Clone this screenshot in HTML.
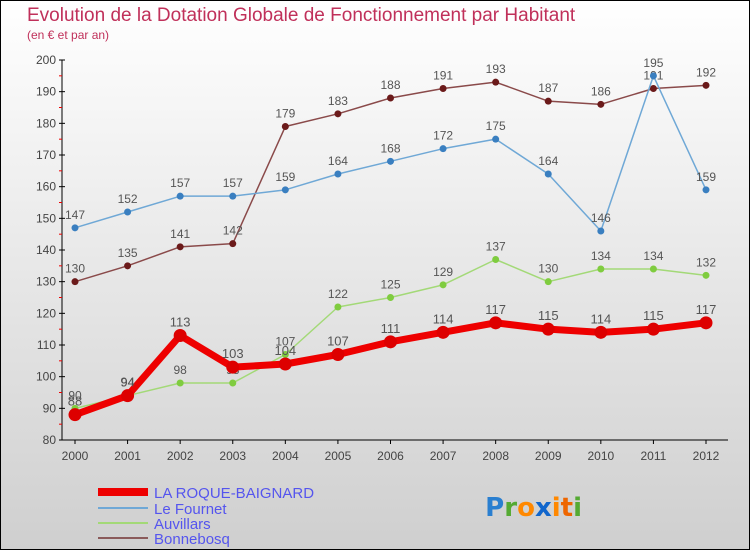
<!DOCTYPE html>
<html><head><meta charset="utf-8"><style>
body{margin:0;width:750px;height:550px;overflow:hidden;font-family:"Liberation Sans",sans-serif}
svg{display:block}
</style></head><body>
<svg id="chart" width="750" height="550" xmlns="http://www.w3.org/2000/svg">
<defs><linearGradient id="bg" x1="0" y1="0" x2="0" y2="1"><stop offset="0" stop-color="#ffffff"/><stop offset="1" stop-color="#cfcfcf"/></linearGradient></defs>
<rect x="0.5" y="0.5" width="749" height="549" fill="url(#bg)" stroke="#000"/>
<text x="27" y="21" font-size="19" fill="#c0305a">Evolution de la Dotation Globale de Fonctionnement par Habitant</text>
<text x="27" y="39" font-size="12" fill="#c0305a">(en € et par an)</text>
<g id="axes"></g>
<g id="series"></g>
<g id="legend">
<line x1="98" y1="492" x2="148" y2="492" stroke="#ee0000" stroke-width="8"/>
<text x="154" y="498" font-size="15" fill="#5555ee">LA ROQUE-BAIGNARD</text>
<line x1="98" y1="508" x2="148" y2="508" stroke="#6fa8d6" stroke-width="2"/>
<text x="154" y="514" font-size="15" fill="#5555ee">Le Fournet</text>
<line x1="98" y1="523" x2="148" y2="523" stroke="#a3d977" stroke-width="2"/>
<text x="154" y="529" font-size="15" fill="#5555ee">Auvillars</text>
<line x1="98" y1="538" x2="148" y2="538" stroke="#8a5a5a" stroke-width="2"/>
<text x="154" y="544" font-size="15" fill="#5555ee">Bonnebosq</text>
</g>
<g font-size="26" font-weight="bold" font-family="'DejaVu Sans',sans-serif">
<text x="582" y="516" text-anchor="end"><tspan fill="#2a7fd0">P</tspan><tspan fill="#55aa33">r</tspan><tspan fill="#ff8800">o</tspan><tspan fill="#1166cc">x</tspan><tspan fill="#ff8800">i</tspan><tspan fill="#ee6600">t</tspan><tspan fill="#55aa33">i</tspan></text>
</g>
</svg>
<script>
const years = [2000,2001,2002,2003,2004,2005,2006,2007,2008,2009,2010,2011,2012];
const yTicks = [80,90,100,110,120,130,140,150,160,170,180,190,200];
const laRoque = [88,94,113,103,104,107,111,114,117,115,114,115,117];
const leFournet = [147,152,157,157,159,164,168,172,175,164,146,195,159];
const auvillars = [90,94,98,98,107,122,125,129,137,130,134,134,132];
const bonnebosq = [130,135,141,142,179,183,188,191,193,187,186,191,192];

const NS="http://www.w3.org/2000/svg";
const x0=75, x1=706, yTop=60, yBot=440, vMin=80, vMax=200;
function xs(i){return x0+(x1-x0)*i/(years.length-1);}
function ys(v){return yBot-(v-vMin)/(vMax-vMin)*(yBot-yTop);}
function mk(tag,attrs,parent){const e=document.createElementNS(NS,tag);for(const k in attrs)e.setAttribute(k,attrs[k]);parent.appendChild(e);return e;}
const axes=document.getElementById('axes');
let a=mk('line',{x1:62,y1:yTop,x2:62,y2:yBot,stroke:'#000'},axes);


a=mk('line',{x1:62,y1:yBot,x2:728,y2:yBot,stroke:'#000'},axes);


yTicks.forEach(v=>{
  mk('line',{x1:59,y1:ys(v),x2:65,y2:ys(v),stroke:'#000'},axes);
  if(v<vMax){mk('line',{x1:59,y1:ys(v+5),x2:62,y2:ys(v+5),stroke:'#e00'},axes);}
  const t=mk('text',{x:56,y:ys(v)+4,'font-size':12,fill:'#444','text-anchor':'end'},axes);
  t.textContent=v;
  
  
});
years.forEach((yr,i)=>{
  mk('line',{x1:xs(i),y1:yBot,x2:xs(i),y2:yBot+4,stroke:'#000'},axes);
  const t=mk('text',{x:xs(i),y:yBot+20,'font-size':12,fill:'#444','text-anchor':'middle'},axes);
  t.textContent=yr;
  
  
});
const series=document.getElementById('series');
function draw(vals,name,lc,mc,w,r,fs){
  const g=mk('g',{},series);
  
  
  const p=mk('polyline',{points:vals.map((v,i)=>xs(i)+','+ys(v)).join(' '),fill:'none',stroke:lc,'stroke-width':w,'stroke-linejoin':'round'},g);
  
  
  vals.forEach((v,i)=>{
    const c=mk('circle',{cx:xs(i),cy:ys(v),r:r,fill:mc},g);
    
    
    const t=mk('text',{x:xs(i),y:ys(v)-9,'font-size':fs,fill:'#555','text-anchor':'middle'},g);
    t.textContent=v;
    
    
  });
}
draw(bonnebosq,'bonnebosq','#8a4a4a','#6b1a1a',1.5,3.5,12);
draw(leFournet,'le-fournet','#6fa8d6','#3a7fc0',1.5,3.5,12);
draw(auvillars,'auvillars','#a3d977','#7fcc3f',1.5,3.5,12);
draw(laRoque,'la-roque-baignard','#ee0000','#dd0000',7,6.5,13);
</script>
</body></html>
